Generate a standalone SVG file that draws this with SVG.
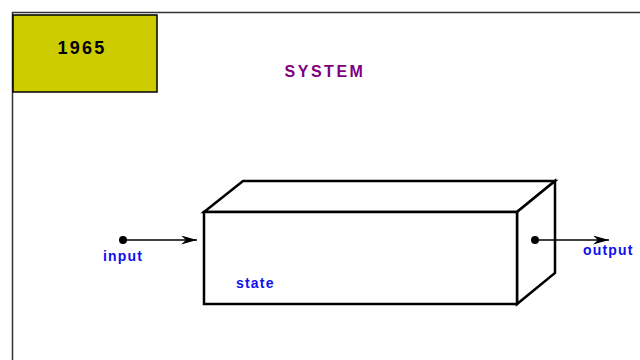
<svg xmlns="http://www.w3.org/2000/svg" width="640" height="360" viewBox="0 0 640 360">
<style>
.edge{stroke:#000;stroke-width:1.5;fill:none}
.box{stroke:#000;stroke-width:2.5;fill:#fff;stroke-linejoin:miter}
.lbl{font-family:"Liberation Sans",Arial,sans-serif;font-weight:bold;font-size:14px;fill:#1010ee;letter-spacing:1.2px}
</style>
<defs>
<marker id="arr" markerWidth="16" markerHeight="9" refX="16" refY="4.5" orient="auto" markerUnits="userSpaceOnUse">
<path d="M0,0 L16,4.5 L0,9 L5,4.5 Z" fill="#000"/>
</marker>
</defs>
<rect width="640" height="360" fill="#fff"/>
<g id="frame">
<path d="M12,12.5 H640 M12.5,12 V360" stroke="#333" stroke-width="1.5" fill="none"/>
</g>
<g id="year">
<rect x="13" y="15" width="144" height="77" fill="#cccc00" stroke="#000" stroke-width="1.5"/>
<text x="82" y="54" text-anchor="middle" font-family="Liberation Sans,Arial,sans-serif" font-weight="bold" font-size="18" letter-spacing="2.2" fill="#000">1965</text>
</g>
<g id="title">
<text x="325" y="77" text-anchor="middle" font-family="Liberation Sans,Arial,sans-serif" font-weight="bold" font-size="16" letter-spacing="2.5" fill="#800080">SYSTEM</text>
</g>
<g id="system">
<path class="box" d="M204,212 L243,181 L555,181 L517,212 Z"/>
<path class="box" d="M517,212 L555,181 L555,273 L517,304 Z"/>
<rect class="box" x="204" y="212" width="313" height="92"/>
<text class="lbl" x="236" y="288">state</text>
</g>
<g id="connectors">
<circle cx="123" cy="240" r="4" fill="#000"/>
<line class="edge" x1="123" y1="240" x2="197" y2="240" marker-end="url(#arr)"/>
<circle cx="535" cy="240" r="4" fill="#000"/>
<line class="edge" x1="535" y1="240" x2="609" y2="240" marker-end="url(#arr)"/>
</g>
<g id="labels">
<text class="lbl" x="103" y="261">input</text>
<text class="lbl" x="583" y="255">output</text>
</g>
</svg>
